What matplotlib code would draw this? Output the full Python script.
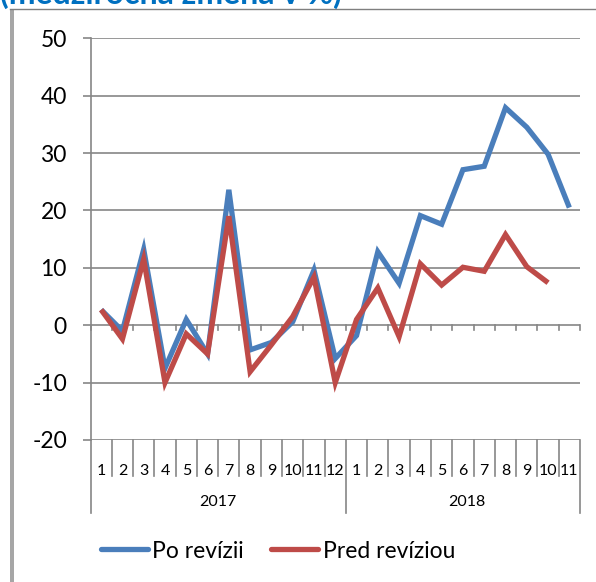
import matplotlib
matplotlib.use("Agg")
import matplotlib.pyplot as plt
from matplotlib.lines import Line2D
from matplotlib.patches import Rectangle
import matplotlib.transforms as mtransforms

plt.rcParams['font.family'] = ['Lato', 'DejaVu Sans']

months = ['1', '2', '3', '4', '5', '6', '7', '8', '9', '10', '11', '12',
          '1', '2', '3', '4', '5', '6', '7', '8', '9', '10', '11']
years = ['2017', '2018']
year_sizes = [12, 11]
po_revizii = [2.7, -1.0, 13.2, -7.5, 1.0, -5.0, 23.6, -4.3, -3.0, 0.6, 9.6, -5.8,
              -1.8, 12.8, 7.3, 19.1, 17.6, 27.1, 27.7, 37.9, 34.5, 29.8, 20.5]
pred_reviziou = [2.7, -2.4, 11.5, -10.0, -1.5, -5.0, 19.0, -8.1, -3.4, 1.5, 8.4, -10.0,
                 1.0, 6.5, -2.0, 10.7, 7.0, 10.1, 9.4, 15.8, 10.2, 7.4]
y_ticks = [-20, -10, 0, 10, 20, 30, 40, 50]
title = '(medziročná zmena v %)'
labels = ['Po revízii', 'Pred revíziou']

W, H = 596, 582
fig = plt.figure(figsize=(W / 100, H / 100), dpi=100)

def fx(px):
    return px / W

def fy(py):
    return 1 - py / H

left, right, top, bottom = 90.5, 580.0, 38.3, 440.0
ax = fig.add_axes([fx(left), fy(bottom), fx(right) - fx(left), fy(top) - fy(bottom)])

grid_c = '#868686'
blue = '#4A7EBB'
red = '#BE4B48'

n = len(months)
ax.set_xlim(-0.5, n - 0.5)
ax.set_ylim(-20, 50)
ax.set_yticks(y_ticks)
ax.set_yticklabels([str(v) for v in y_ticks], fontsize=16.5)
ax.tick_params(axis='y', length=6, width=1.2, color=grid_c, pad=11)
for v in y_ticks:
    ax.axhline(v, color=grid_c, lw=1.2, zorder=1)

ax.set_xticks(range(n))
ax.set_xticklabels(months, fontsize=11.5)
ax.tick_params(axis='x', length=0, pad=17)

for s in ['top', 'right', 'bottom']:
    ax.spines[s].set_visible(False)
ax.spines['left'].set_color(grid_c)
ax.spines['left'].set_linewidth(1.2)

# small ticks on the zero line
for i in range(n + 1):
    ax.plot([i - 0.5, i - 0.5], [0, -0.9], color=grid_c, lw=1.2, clip_on=False, zorder=1)

# category dividers
trans = mtransforms.blended_transform_factory(ax.transData, ax.transAxes)
short_d = -(476 - bottom) / (bottom - top)
long_d = -(513 - bottom) / (bottom - top)
bounds = [-0.5]
acc = -0.5
for s in year_sizes:
    acc += s
    bounds.append(acc)
for i in range(n + 1):
    x = i - 0.5
    d = long_d if x in bounds else short_d
    ax.add_line(Line2D([x, x], [0, d], transform=trans, color=grid_c, lw=1.2, clip_on=False))

start = 0
for yr, s in zip(years, year_sizes):
    c = start + (s - 1) / 2 + (0.2 if start else 0)
    ax.text(c, -(501.5 - bottom) / (bottom - top), yr, transform=trans,
            ha='center', va='center', fontsize=11.5)
    start += s

l1, = ax.plot(range(len(po_revizii)), po_revizii, color=blue, lw=3.8,
              solid_joinstyle='miter', solid_capstyle='butt', zorder=3)
l2, = ax.plot(range(len(pred_reviziou)), pred_reviziou, color=red, lw=3.8,
              solid_joinstyle='miter', solid_capstyle='butt', zorder=4)

leg = fig.legend([l1, l2], labels, loc='center', bbox_to_anchor=(fx(278), fy(551)),
                 ncol=2, frameon=False, fontsize=16.5, handlelength=2.05,
                 handletextpad=0.2, columnspacing=1.2)
for h in leg.legend_handles:
    h.set_solid_capstyle('round')

# frame decorations
fig.add_artist(Line2D([fx(10), 1], [fy(8.5), fy(8.5)], color='#7F7F7F', lw=1.0))
fig.add_artist(Rectangle((fx(10), 0), fx(4), fy(8.5), transform=fig.transFigure,
                         facecolor='#A6A6A6', edgecolor='none'))

fig.text(fx(0), fy(3.5), title, color='#0070C0', fontsize=23, fontweight='bold',
         ha='left', va='baseline')

fig.savefig('out.png', dpi=100)
